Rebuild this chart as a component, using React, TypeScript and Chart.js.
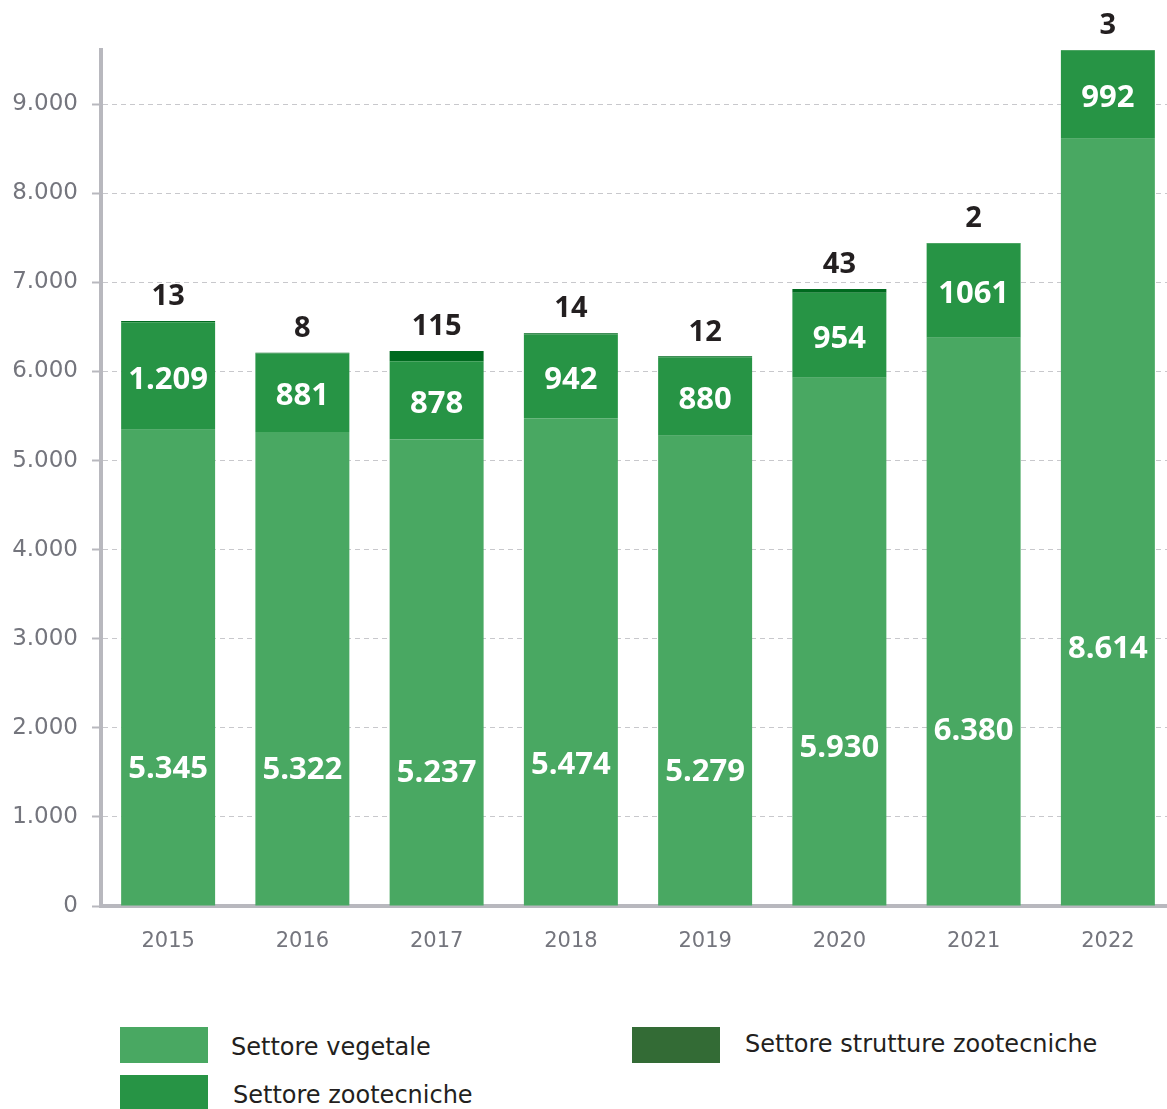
import React, { useEffect, useRef } from "react";
import { Chart, registerables } from "chart.js";

Chart.register(...registerables);

const years = ["2015", "2016", "2017", "2018", "2019", "2020", "2021", "2022"];
const vegetale = [5345, 5322, 5237, 5474, 5279, 5930, 6380, 8614];
const zootecniche = [1209, 881, 878, 942, 880, 954, 1061, 992];
const strutture = [13, 8, 115, 14, 12, 43, 2, 3];
const vegetaleLabels = ["5.345", "5.322", "5.237", "5.474", "5.279", "5.930", "6.380", "8.614"];
const zootecnicheLabels = ["1.209", "881", "878", "942", "880", "954", "1061", "992"];
const struttureLabels = ["13", "8", "115", "14", "12", "43", "2", "3"];
const yTicks = [0, 1000, 2000, 3000, 4000, 5000, 6000, 7000, 8000, 9000];
const yMax = 9609;

const COL_VEG = "#49A862";
const COL_ZOO = "#279445";
const COL_STR = "#006A1F";
const COL_STR_LEGEND = "#336B35";
const FONT_NUM = "'Open Sans', 'Noto Sans', sans-serif";
const FONT_TXT = "'DejaVu Sans', sans-serif";
const AXIS_TEXT = "#74757D";

const fmt = (v: number) => String(v).replace(/\B(?=(\d{3})+(?!\d))/g, ".");

const labelPlugin = {
  id: "barLabels",
  afterDatasetsDraw(chart: any) {
    const ctx = chart.ctx;
    ctx.save();
    ctx.textAlign = "center";
    ctx.textBaseline = "middle";
    const m0 = chart.getDatasetMeta(0);
    const m1 = chart.getDatasetMeta(1);
    const m2 = chart.getDatasetMeta(2);
    ctx.fillStyle = "#FFFFFF";
    ctx.font = `bold 31px ${FONT_NUM}`;
    m0.data.forEach((b: any, i: number) => {
      const h = b.base - b.y;
      ctx.fillText(vegetaleLabels[i], b.x, b.base - (0.412 * h - 60));
    });
    m1.data.forEach((b: any, i: number) => {
      ctx.fillText(zootecnicheLabels[i], b.x, (b.base + b.y) / 2 + 4);
    });
    ctx.fillStyle = "#231F20";
    ctx.font = `bold 29px ${FONT_NUM}`;
    m2.data.forEach((b: any, i: number) => {
      ctx.fillText(struttureLabels[i], b.x, b.y - 24);
    });
    ctx.restore();
  },
};

export default function App() {
  const ref = useRef<HTMLCanvasElement | null>(null);
  useEffect(() => {
    if (!ref.current) return;
    const chart = new Chart(ref.current, {
      type: "bar",
      data: {
        labels: years,
        datasets: [
          { label: "Settore vegetale", data: vegetale, backgroundColor: COL_VEG },
          { label: "Settore zootecniche", data: zootecniche, backgroundColor: COL_ZOO },
          { label: "Settore strutture zootecniche", data: strutture, backgroundColor: COL_STR },
        ],
      },
      options: {
        animation: false,
        responsive: false,
        maintainAspectRatio: false,
        layout: { padding: { top: 50, right: 0, left: 0, bottom: 0 } },
        datasets: { bar: { categoryPercentage: 1, barPercentage: 0.7 } },
        plugins: { legend: { display: false }, tooltip: { enabled: false } },
        scales: {
          x: {
            stacked: true,
            grid: { display: false },
            border: { display: true, color: "#B8B8BE", width: 4 },
            ticks: { color: AXIS_TEXT, font: { family: FONT_TXT, size: 21 }, padding: 15 },
            afterFit: (s: any) => { s.height = 94; },
          },
          y: {
            stacked: true,
            min: 0,
            max: yMax,
            grid: {
              color: "#C8C8CC",
              lineWidth: 1,
              tickLength: 9,
              tickColor: "#B8B8BE",
              tickWidth: 2,
            },
            border: { display: true, color: "#B8B8BE", width: 4, dash: [5, 4] },
            ticks: {
              stepSize: 1000,
              color: AXIS_TEXT,
              font: { family: FONT_TXT, size: 23 },
              padding: 14,
              callback: (v: any) => fmt(Number(v)),
            },
            afterBuildTicks: (s: any) => {
              s.ticks = yTicks.map((v) => ({ value: v }));
            },
            afterFit: (s: any) => { s.width = 101; },
          },
        },
      } as any,
      plugins: [labelPlugin],
    });
    return () => chart.destroy();
  }, []);

  const sw = (c: string, left: number, top: number, h: number) => (
    <div style={{ position: "absolute", left, top, width: 88, height: h, background: c }} />
  );
  const tx = (t: string, left: number, cy: number) => (
    <div
      style={{
        position: "absolute",
        left,
        top: cy - 15,
        height: 30,
        lineHeight: "30px",
        fontFamily: FONT_TXT,
        fontSize: 24,
        color: "#231F20",
        whiteSpace: "nowrap",
      }}
    >
      {t}
    </div>
  );

  return (
    <div style={{ position: "absolute", left: 0, top: 0, width: 1167, height: 1109, background: "#fff", overflow: "hidden" }}>
      <canvas ref={ref} width={1175} height={1000} style={{ position: "absolute", left: 0, top: 0, width: 1175, height: 1000 }} />
      {sw(COL_VEG, 120, 1027, 36)}
      {tx("Settore vegetale", 231, 1047)}
      {sw(COL_ZOO, 120, 1075, 34)}
      {tx("Settore zootecniche", 233, 1095)}
      {sw(COL_STR_LEGEND, 632, 1027, 36)}
      {tx("Settore strutture zootecniche", 745, 1044)}
    </div>
  );
}
